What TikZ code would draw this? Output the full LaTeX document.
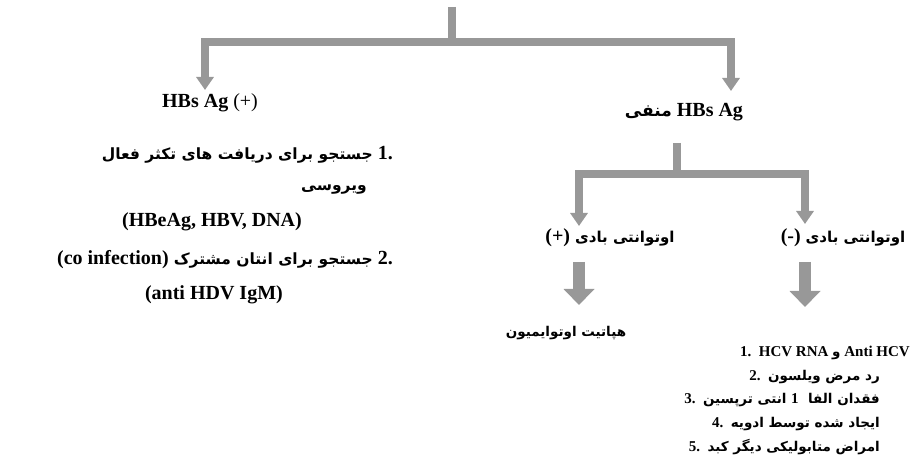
\documentclass[tikz,border=0pt]{standalone}
\usepackage{fontspec}
\setmainfont{Liberation Serif}
\newfontfamily\fa[Script=Arabic]{DejaVu Sans}
\TeXXeTstate=1
\usetikzlibrary{arrows.meta}
\definecolor{linegray}{RGB}{152,152,152}
\newcommand\pf[1]{\fa\bfseries\fontsize{#1}{#1}\selectfont}
\begin{document}
\begin{tikzpicture}[x=1pt,y=-1pt,
  conn/.style={draw=linegray, line width=8pt},
  connarrow/.style={conn, -{Triangle[width=17pt,length=13pt]}},
  fatarrow/.style={draw=linegray, line width=12pt, -{Triangle[width=30pt,length=16pt]}},
  lbl/.style={inner sep=0pt, font=\fontsize{20}{24}\selectfont},
  sm/.style={inner sep=0pt, font=\fontsize{15}{18}\selectfont},
]
\useasboundingbox (0,0) rectangle (922,457);
% coordinates of the tree
\coordinate (top) at (452,7);
\coordinate (j1) at (452,42);
\coordinate (tipL) at (205,90);
\coordinate (tipR) at (731,91);
\coordinate (j2top) at (677,143);
\coordinate (j2) at (677,174);
\coordinate (tipAL) at (579,226);
\coordinate (tipAR) at (805,224);
\coordinate (fatLs) at (579,262);
\coordinate (fatLe) at (579,305);
\coordinate (fatRs) at (805,262);
\coordinate (fatRe) at (805,307);
% nodes
\node[lbl] (hbpos) at (210,103) {\bfseries HBs Ag \mdseries(+)};
\node[lbl] (hbneg) at (684,112) {{\pf{17}\beginR منفی\endR}\ \bfseries HBs Ag};
\node[lbl,anchor=east] (l1) at (393,155) {{\pf{15.5}\beginR جستجو برای دریافت های تکثر فعال\endR}\ \bfseries 1.};
\node[lbl,anchor=east] (l2) at (367,190) {{\pf{15.5}\beginR ویروسی\endR}};
\node[lbl,anchor=east] (l3) at (302,222) {\bfseries (HBeAg, HBV, DNA)};
\node[lbl,anchor=east] (l4) at (393,260) {\bfseries (co infection)\ {\pf{15.5}\beginR جستجو برای انتان مشترک\endR}\ \bfseries 2.};
\node[lbl,anchor=east] (l5) at (283,295) {\bfseries (anti HDV IgM)};
\node[lbl] (abpos) at (610,238) {\bfseries (+)\ {\pf{15}\beginR اوتوانتی بادی\endR}};
\node[lbl] (abneg) at (843,238) {\bfseries (-)\ {\pf{15}\beginR اوتوانتی بادی\endR}};
\node[sm] (autoimm) at (566,333) {{\pf{13.5}\beginR هپاتیت اوتوایمیون\endR}};
\node[sm,anchor=east] (c1) at (910,353) {\bfseries 1.\ \ HCV RNA {\pf{13.5}\beginR و\endR} Anti HCV};
\node[sm,anchor=east] (c2) at (880,377) {\bfseries 2.\ \ {\pf{13.5}\beginR رد مرض ویلسون\endR}};
\node[sm,anchor=east] (c3) at (880,400) {\bfseries 3.\ \ {\pf{13.5}\beginR فقدان الفا \ {\rmfamily\bfseries\fontsize{15}{18}\selectfont 1} انتی ترپسین\endR}};
\node[sm,anchor=east] (c4) at (880,424) {\bfseries 4.\ \ {\pf{13.5}\beginR ایجاد شده توسط ادویه\endR}};
\node[sm,anchor=east] (c5) at (880,447) {\bfseries 5.\ \ {\pf{13.5}\beginR امراض متابولیکی دیگر کبد\endR}};
% connectors
\draw[conn] (top) -- (j1);
\draw[connarrow] (j1) -| (tipL);
\draw[connarrow] (j1) -| (tipR);
\draw[conn] (j2top) -- (j2);
\draw[connarrow] (j2) -| (tipAL);
\draw[connarrow] (j2) -| (tipAR);
\draw[fatarrow] (fatLs) -- (fatLe);
\draw[fatarrow] (fatRs) -- (fatRe);
\end{tikzpicture}
\end{document}
